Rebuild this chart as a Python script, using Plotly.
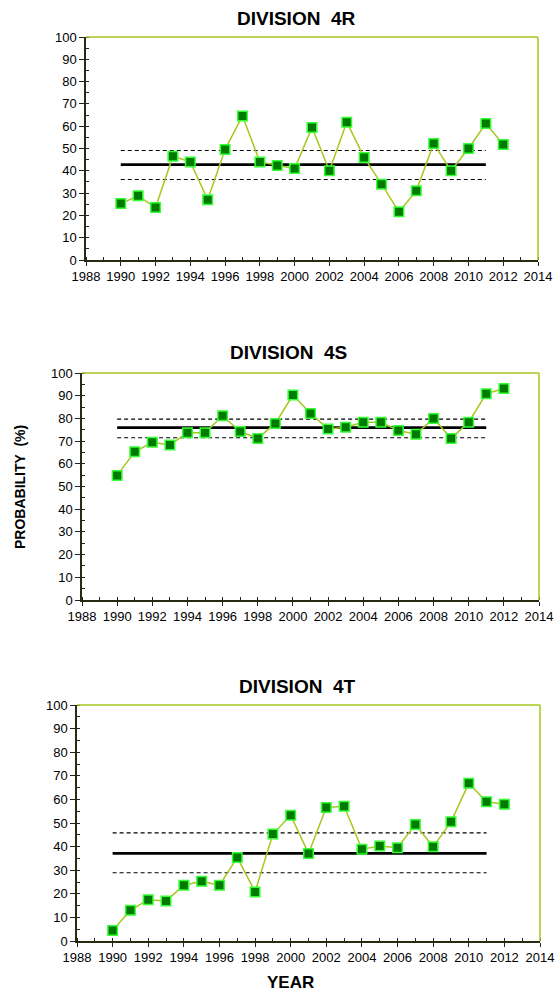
import plotly.graph_objects as go

years = list(range(1990, 2013))

div_4r = [25.3, 28.8, 23.5, 46.5, 44.0, 27.0, 49.5, 64.6, 44.0, 42.4, 41.0, 59.4,
          40.0, 61.8, 46.0, 34.0, 21.6, 31.0, 52.2, 40.0, 50.0, 61.2, 51.8]
div_4s = [54.9, 65.3, 69.5, 68.3, 73.7, 73.7, 81.2, 74.2, 71.2, 77.8, 90.3, 82.2,
          75.3, 76.1, 78.3, 78.3, 74.7, 73.0, 80.0, 71.2, 78.3, 90.9, 93.2]
div_4t = [4.5, 13.0, 17.5, 17.0, 23.6, 25.3, 23.6, 35.4, 20.8, 45.3, 53.3, 37.1,
          56.6, 57.1, 38.9, 40.3, 39.5, 49.4, 39.9, 50.5, 66.8, 59.0, 57.9]

# mean and lower/upper limits over the 1990-2011 reference period
ref_years = [1990, 2011]
means = [42.8, 75.9, 37.1]
upper = [49.1, 79.7, 45.8]
lower = [36.1, 71.5, 28.9]

titles = ["DIVISION  4R", "DIVISION  4S", "DIVISION  4T"]
series = [div_4r, div_4s, div_4t]

x_ticks = list(range(1988, 2015, 2))
y_ticks = list(range(0, 101, 10))

W, H = 557, 995
# panel boxes in pixels: left, right, top, bottom
boxes = [(86, 538, 37, 260), (82, 539, 373, 600), (77, 540, 705, 941)]
# title centres in pixels
title_pos = [(296, 18), (288, 352), (297, 686)]

LINE_GREEN = "#a4c81e"
FILL_GREEN = "#007a00"
EDGE_GREEN = "#33ff33"
AXIS_DARK = "#2a2a10"
FONT = "Liberation Sans, Arial, sans-serif"

fig = go.Figure()

for i, (vals, title) in enumerate(zip(series, titles)):
    n = "" if i == 0 else str(i + 1)
    xa, ya = "x" + n, "y" + n
    l, r, t, b = boxes[i]
    xdom = [l / W, r / W]
    ydom = [1 - b / H, 1 - t / H]

    for val, dash, width in [(upper[i], "4px,3px", 1.1), (lower[i], "4px,3px", 1.1),
                             (means[i], "solid", 2.8)]:
        fig.add_trace(go.Scatter(
            x=ref_years, y=[val, val], mode="lines", xaxis=xa, yaxis=ya,
            line=dict(color="black", width=width, dash=dash), showlegend=False,
            hoverinfo="skip"))

    fig.add_trace(go.Scatter(
        x=years, y=vals, mode="lines+markers", xaxis=xa, yaxis=ya,
        line=dict(color=LINE_GREEN, width=1.5),
        marker=dict(symbol="square", size=9.5, color=FILL_GREEN,
                    line=dict(color=EDGE_GREEN, width=1.5)),
        showlegend=False))

    fig.layout["xaxis" + n] = dict(
        domain=xdom, anchor=ya, range=[1988, 2014], tickvals=x_ticks,
        ticks="outside", ticklen=4, tickcolor="#222", tickwidth=1,
        minor=dict(dtick=1, tick0=1988, ticks="inside", ticklen=3, tickcolor="#222"),
        showline=True, linecolor=AXIS_DARK, linewidth=1.5, showgrid=False,
        zeroline=False, automargin=False,
        tickfont=dict(family=FONT, size=13, color="black"), fixedrange=True)
    fig.layout["yaxis" + n] = dict(
        domain=ydom, anchor=xa, range=[0, 100], tickvals=y_ticks,
        ticks="outside", ticklen=5, tickcolor="#222", tickwidth=1,
        minor=dict(dtick=5, tick0=0, ticks="inside", ticklen=3, tickcolor="#222"),
        showline=True, linecolor=AXIS_DARK, linewidth=1.5, showgrid=False,
        zeroline=False, automargin=False,
        tickfont=dict(family=FONT, size=13, color="black"), fixedrange=True)

    # overlay axes carrying the inner half of the major tick marks
    k = i + 4
    fig.layout["xaxis" + str(k)] = dict(
        overlaying=xa, anchor=ya, range=[1988, 2014], tickvals=x_ticks,
        ticks="inside", ticklen=4, tickcolor="#222", tickwidth=1,
        showticklabels=False, showline=False, showgrid=False, zeroline=False,
        automargin=False, fixedrange=True)
    fig.layout["yaxis" + str(k)] = dict(
        overlaying=ya, anchor=xa, range=[0, 100], tickvals=y_ticks,
        ticks="inside", ticklen=4, tickcolor="#222", tickwidth=1,
        showticklabels=False, showline=False, showgrid=False, zeroline=False,
        automargin=False, fixedrange=True)

    # top and right frame edges
    fig.add_shape(type="line", xref=xa + " domain", yref=ya + " domain",
                  x0=0, x1=1, y0=1, y1=1, line=dict(color=LINE_GREEN, width=1.5))
    fig.add_shape(type="line", xref=xa + " domain", yref=ya + " domain",
                  x0=1, x1=1, y0=0, y1=1, line=dict(color=LINE_GREEN, width=1.5))

    tx, ty = title_pos[i]
    fig.add_annotation(text="<b>" + title + "</b>", x=tx / W, y=1 - ty / H,
                       xref="paper", yref="paper", showarrow=False,
                       xanchor="center", yanchor="middle",
                       font=dict(family=FONT, size=19, color="black"))

fig.add_annotation(text="<b>PROBABILITY  (%)</b>", textangle=-90, x=20 / W, y=1 - 487 / H,
                   xref="paper", yref="paper", showarrow=False,
                   xanchor="center", yanchor="middle",
                   font=dict(family=FONT, size=14, color="black"))
fig.add_annotation(text="<b>YEAR</b>", x=290 / W, y=1 - 982 / H,
                   xref="paper", yref="paper", showarrow=False,
                   xanchor="center", yanchor="middle",
                   font=dict(family=FONT, size=17, color="black"))

fig.update_layout(width=W, height=H, margin=dict(l=0, r=0, t=0, b=0),
                  plot_bgcolor="white", paper_bgcolor="white")

fig.write_html("out.html")
